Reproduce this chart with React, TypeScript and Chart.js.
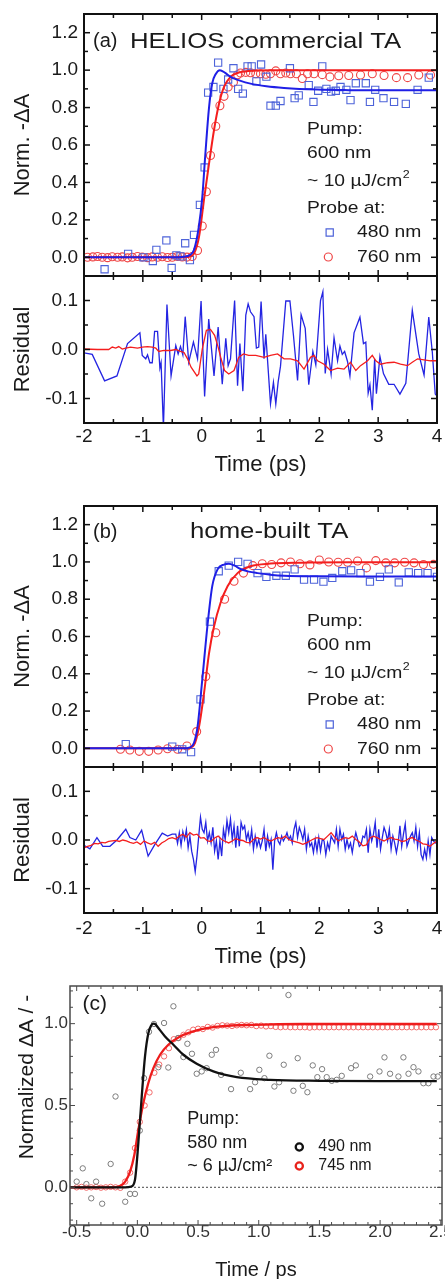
import React, { useEffect, useRef } from "react";
import { Chart, registerables } from "chart.js";

Chart.register(...registerables);

const FONT = "'Liberation Sans', Arial, Helvetica, sans-serif";
const INK = "#1a1a1a";

// ---------------- Panel (a): HELIOS commercial TA ----------------
const aBlueX = [-1.65, -1.25, -0.99, -0.83, -0.77, -0.6, -0.51, -0.43, -0.36, -0.28, -0.2, -0.13, -0.03, 0.05,
  0.11, 0.2, 0.28, 0.37, 0.45, 0.54, 0.62, 0.7, 0.78, 0.85, 0.93, 1.01, 1.1, 1.17, 1.26, 1.34, 1.5, 1.58, 1.65,
  1.82, 1.9, 1.98, 2.05, 2.12, 2.2, 2.28, 2.36, 2.46, 2.53, 2.62, 2.79, 2.86, 2.95, 3.09, 3.27, 3.47, 3.67, 3.86];
const aBlueY = [-0.064, 0.018, 0.0, -0.02, 0.04, 0.09, -0.057, 0.01, 0.005, 0.075, -0.015, 0.12, 0.28, 0.48,
  0.88, 0.91, 1.04, 0.9, 0.95, 1.01, 0.9, 0.875, 1.02, 1.02, 0.94, 1.03, 0.965, 0.81, 0.81, 0.835, 1.01, 0.85, 0.865,
  0.92, 0.83, 0.89, 1.02, 0.9, 0.885, 0.89, 0.91, 0.895, 0.84, 0.93, 0.93, 0.83, 0.895, 0.85, 0.83, 0.82, 0.895, 0.96];
const aRedX = [-1.94, -1.85, -1.77, -1.69, -1.6, -1.52, -1.43, -1.35, -1.26, -1.18, -1.09, -1.01, -0.92, -0.84,
  -0.75, -0.67, -0.58, -0.5, -0.41, -0.33, -0.25, -0.16, -0.07, 0.01, 0.08, 0.15, 0.24, 0.31, 0.38, 0.45, 0.54, 0.61,
  0.66, 0.75, 0.83, 0.92, 1.0, 1.09, 1.17, 1.26, 1.34, 1.43, 1.51, 1.61, 1.71, 1.8, 1.91, 2.05, 2.18, 2.33, 2.5,
  2.7, 2.9, 3.1, 3.31, 3.5, 3.69, 3.89];
const aRedY = [0, 0.002, 0.004, 0, -0.002, 0.003, 0, 0.002, -0.003, 0, 0.004, 0.001, -0.002, 0.002, 0, 0.003,
  -0.001, 0, 0.004, 0.002, 0.001, 0.004, 0.036, 0.167, 0.35, 0.544, 0.7, 0.81, 0.86, 0.91, 0.935, 0.975,
  0.985, 0.988, 0.986, 0.981, 0.981, 0.978, 0.981, 0.996, 0.981, 0.985, 0.981, 0.981, 0.955, 0.981, 0.981, 0.976,
  0.964, 0.97, 0.971, 0.974, 0.981, 0.971, 0.96, 0.96, 0.974, 0.974];
const aBlueFitX = [-2, -0.5, -0.3, -0.2, -0.13, -0.05, 0.01, 0.06, 0.125, 0.18, 0.24, 0.31, 0.4, 0.49, 0.65, 0.83, 1.1, 1.4, 1.97, 2.5, 3, 4];
const aBlueFitY = [0, 0, 0.003, 0.012, 0.04, 0.16, 0.32, 0.54, 0.8, 0.93, 0.98, 1.0, 0.985, 0.964, 0.944, 0.928, 0.914, 0.905, 0.896, 0.893, 0.892, 0.892];
const aRedFitX = [-2, -0.3, -0.2, -0.13, -0.045, 0.04, 0.125, 0.21, 0.295, 0.38, 0.49, 0.61, 0.8, 1.2, 2, 4];
const aRedFitY = [0, 0, 0.004, 0.02, 0.11, 0.31, 0.5, 0.68, 0.82, 0.91, 0.964, 0.985, 0.996, 1.0, 1.0, 1.0];

const aResBlueX = [-2.0, -1.86, -1.65, -1.44, -1.26, -1.05, -1.01, -0.95, -0.92, -0.88, -0.84, -0.8, -0.75, -0.71,
  -0.69, -0.65, -0.59, -0.52, -0.44, -0.4, -0.36, -0.32, -0.28, -0.22, -0.14, -0.07, -0.01, 0.05, 0.12, 0.21, 0.28,
  0.35, 0.41, 0.45, 0.49, 0.56, 0.61, 0.65, 0.7, 0.75, 0.79, 0.83, 0.89, 0.93, 0.97, 1.01, 1.06, 1.09, 1.17, 1.22,
  1.26, 1.3, 1.34, 1.43, 1.5, 1.56, 1.63, 1.69, 1.76, 1.82, 1.89, 1.94, 2.02, 2.06, 2.1, 2.14, 2.18, 2.2, 2.25, 2.31,
  2.35, 2.39, 2.43, 2.48, 2.52, 2.59, 2.69, 2.75, 2.79, 2.83, 2.86, 2.9, 2.94, 2.97, 3.03, 3.09, 3.18, 3.27, 3.37,
  3.47, 3.58, 3.69, 3.78, 3.86, 3.92, 3.97, 4.0];
const aResBlueY = [-0.007, -0.01, -0.064, -0.054, 0.012, 0.034, -0.012, -0.019, -0.011, -0.027, -0.027, 0.037, 0.037,
  -0.038, -0.027, -0.16, 0.092, -0.054, 0.008, -0.009, 0.006, -0.011, 0.067, -0.026, 0.015, -0.019, 0.099, -0.096,
  0.062, -0.054, 0.046, -0.071, 0.023, -0.033, -0.019, 0.1, -0.074, 0.012, -0.085, 0.07, 0.093, 0.077, 0.067, 0.003,
  0.005, 0.098, -0.019, 0.031, -0.111, -0.067, -0.111, -0.066, -0.034, 0.099, 0.099, 0.029, -0.063, 0.071, 0.043,
  -0.072, -0.004, -0.031, 0.1, 0.118, -0.049, 0, -0.033, -0.05, 0.024, -0.023, 0.007, -0.01, -0.004, -0.025, -0.054,
  0.034, 0.066, 0.012, 0.015, -0.089, -0.072, -0.124, -0.019, -0.09, -0.014, -0.049, -0.071, -0.071, -0.091, -0.069,
  0.08, -0.009, -0.052, 0.066, -0.005, -0.091, -0.095];
const aResRedX = [-2.0, -1.77, -1.58, -1.52, -1.46, -1.41, -1.35, -1.29, -1.21, -1.09, -1.01, -0.92, -0.84, -0.78,
  -0.73, -0.64, -0.53, -0.44, -0.36, -0.3, -0.24, -0.18, -0.08, -0.05, 0.01, 0.08, 0.15, 0.22, 0.28, 0.33, 0.39,
  0.46, 0.55, 0.63, 0.71, 0.8, 0.92, 1.06, 1.17, 1.29, 1.4, 1.51, 1.63, 1.74, 1.85, 1.91, 1.97, 2.08, 2.19, 2.31,
  2.42, 2.53, 2.62, 2.7, 2.82, 2.9, 2.96, 3.04, 3.16, 3.27, 3.38, 3.5, 3.58, 3.67, 3.78, 3.89, 4.0];
const aResRedY = [0.001, 0.0, 0.0, 0.005, 0.003, 0.006, 0.001, 0.003, 0.005, 0.003, 0.005, 0.006, 0.005, 0.003,
  -0.004, -0.002, -0.002, 0.0, -0.004, -0.006, -0.019, -0.036, -0.054, -0.05, 0.001, 0.039, 0.041, 0.029, 0.005,
  -0.019, -0.043, -0.05, -0.043, -0.016, -0.009, -0.012, -0.012, -0.016, -0.012, -0.009, -0.019, -0.019, -0.023,
  -0.04, -0.016, -0.012, -0.023, -0.03, -0.043, -0.038, -0.04, -0.026, -0.043, -0.033, -0.023, -0.012, -0.023,
  -0.03, -0.027, -0.026, -0.03, -0.033, -0.026, -0.019, -0.021, -0.023, -0.023];

// ---------------- Panel (b): home-built TA ----------------
const bBlueX = [-1.29, -0.5, -0.33, -0.18, -0.02, 0.14, 0.29, 0.46, 0.62, 0.78, 0.95, 1.1, 1.27, 1.43, 1.58, 1.74,
  1.91, 2.07, 2.22, 2.39, 2.54, 2.7, 2.86, 3.03, 3.18, 3.35, 3.52, 3.68, 3.84, 4.0];
const bBlueY = [0.023, 0.009, -0.005, -0.02, 0.263, 0.68, 0.95, 0.98, 1.0, 0.99, 0.94, 0.92, 0.926, 0.926, 0.96,
  0.905, 0.905, 0.894, 0.914, 0.95, 0.955, 0.94, 0.894, 0.92, 0.96, 0.89, 0.944, 0.94, 0.94, 0.92];
const bRedX = [-1.38, -1.22, -1.06, -0.9, -0.74, -0.58, -0.41, -0.25, -0.085, 0.07, 0.24, 0.39, 0.55, 0.71, 0.87,
  1.03, 1.19, 1.35, 1.51, 1.67, 1.84, 2.0, 2.16, 2.32, 2.48, 2.65, 2.8, 2.96, 3.13, 3.28, 3.45, 3.61, 3.77, 3.94];
const bRedY = [-0.005, -0.009, -0.016, -0.016, -0.009, -0.002, -0.005, 0.013, 0.09, 0.385, 0.62, 0.8, 0.896, 0.94,
  0.98, 0.99, 0.986, 0.995, 1.0, 0.99, 0.984, 1.01, 1.0, 0.998, 0.998, 1.005, 0.968, 1.007, 0.995, 0.995, 0.998,
  0.995, 0.986, 0.987];
const bBlueFitX = [-2, -0.3, -0.2, -0.13, -0.07, 0.01, 0.1, 0.18, 0.27, 0.38, 0.46, 0.56, 0.66, 0.8, 0.95, 1.2, 1.4, 2.0, 3.0, 4.0];
const bBlueFitY = [0, 0, 0.005, 0.03, 0.116, 0.367, 0.663, 0.87, 0.96, 0.986, 0.99, 0.98, 0.962, 0.948, 0.94, 0.93, 0.926, 0.923, 0.922, 0.922];
const bRedFitX = [-2, -0.25, -0.13, -0.045, 0.04, 0.125, 0.21, 0.32, 0.44, 0.61, 0.83, 1.17, 1.68, 2.5, 4.0];
const bRedFitY = [0, 0, 0.018, 0.116, 0.296, 0.51, 0.654, 0.78, 0.87, 0.94, 0.977, 0.991, 0.996, 0.998, 0.998];

const bResBlueX = [-2.0, -1.9, -1.78, -1.68, -1.56, -1.44, -1.29, -1.22, -1.12, -1.02, -0.91, -0.8, -0.67, -0.58, -0.5,
  -0.44, -0.41, -0.38, -0.35, -0.32, -0.29, -0.26, -0.23, -0.2, -0.17,
  -0.14, -0.11, -0.08, -0.05, -0.02, 0.01, 0.04, 0.07, 0.1, 0.13,
  0.16, 0.19, 0.22, 0.25, 0.28, 0.31, 0.34, 0.37, 0.4, 0.43,
  0.46, 0.49, 0.52, 0.55, 0.58, 0.61, 0.64, 0.67, 0.7, 0.73,
  0.76, 0.79, 0.82, 0.85, 0.88, 0.91, 0.94, 0.97, 1.0, 1.03,
  1.06, 1.09, 1.12, 1.15, 1.18, 1.21, 1.24, 1.27, 1.3, 1.33,
  1.36, 1.39, 1.42, 1.45, 1.48, 1.51, 1.54, 1.57, 1.6, 1.63,
  1.66, 1.69, 1.72, 1.75, 1.78, 1.81, 1.84, 1.87, 1.9, 1.93,
  1.96, 1.99, 2.02, 2.05, 2.08, 2.11, 2.14, 2.17, 2.2, 2.23,
  2.26, 2.29, 2.32, 2.35, 2.38, 2.41, 2.44, 2.47, 2.5, 2.53,
  2.56, 2.59, 2.62, 2.65, 2.68, 2.71, 2.74, 2.77, 2.8, 2.83,
  2.86, 2.89, 2.92, 2.95, 2.98, 3.01, 3.04, 3.07, 3.1, 3.13,
  3.16, 3.19, 3.22, 3.25, 3.28, 3.31, 3.34, 3.37, 3.4, 3.43,
  3.46, 3.49, 3.52, 3.55, 3.58, 3.61, 3.64, 3.67, 3.7, 3.73,
  3.76, 3.79, 3.82, 3.85, 3.88, 3.91, 3.94, 3.97, 4.0];
const bResBlueY = [-0.011, -0.018, 0.005, -0.013, -0.013, 0.0, 0.022, 0.005, 0.0, 0.02, -0.033, -0.01, 0.014, 0.008, 0.012,
  0.012, -0.007, 0.015, -0.011, 0.017, 0.001, 0.021, -0.016, 0.008, -0.023,
  -0.04, -0.065, -0.033, 0.008, 0.047, 0.022, 0.015, 0.036, -0.002, 0.015,
  -0.006, 0.026, -0.023, -0.002, -0.04, -0.002, -0.033, 0.022, 0.001, 0.04,
  0.015, 0.043, 0.001, 0.029, -0.016, 0.029, -0.013, 0.036, 0.022, 0.029,
  0.001, 0.015, -0.006, 0.021, -0.019, 0.008, -0.013, 0.001, -0.016, -0.002,
  0.022, -0.023, 0.008, -0.013, 0.001, -0.061, -0.002, 0.015, -0.002, -0.009,
  0.008, -0.002, 0.005, 0.015, 0.001, 0.008, -0.006, 0.022, 0.036, 0.005,
  0.026, 0.015, 0.001, 0.022, -0.019, 0.008, -0.013, -0.006, -0.026, 0.001,
  -0.023, 0.005, -0.023, 0.001, -0.002, -0.03, -0.006, -0.019, 0.008, 0.001,
  -0.006, 0.022, -0.013, 0.022, 0.001, 0.012, -0.019, 0.001, -0.016, -0.006,
  -0.026, -0.002, 0.015, 0.001, -0.013, -0.009, 0.008, 0.005, 0.022, -0.026,
  0.022, -0.002, 0.012, 0.036, -0.016, 0.022, -0.019, 0.005, 0.026, 0.015,
  -0.002, 0.022, -0.019, 0.008, -0.006, -0.026, -0.006, 0.029, -0.013, 0.012,
  0.033, -0.013, -0.002, 0.008, 0.015, -0.002, 0.026, -0.013, 0.015, -0.03,
  -0.04, -0.019, -0.037, -0.002, -0.03, 0.005, -0.002, -0.006, -0.002];
const bResRedX = [-2.0, -1.94, -1.88, -1.82, -1.76, -1.7, -1.64, -1.58, -1.52, -1.46,
  -1.4, -1.34, -1.28, -1.22, -1.16, -1.1, -1.04, -0.98, -0.92, -0.86,
  -0.8, -0.74, -0.68, -0.62, -0.56, -0.5, -0.44, -0.38, -0.32, -0.26,
  -0.2, -0.14, -0.08, -0.02, 0.04, 0.1, 0.16, 0.22, 0.28, 0.34,
  0.4, 0.46, 0.52, 0.58, 0.64, 0.7, 0.76, 0.82, 0.88, 0.94,
  1.0, 1.06, 1.12, 1.18, 1.24, 1.3, 1.36, 1.42, 1.48, 1.54,
  1.6, 1.66, 1.72, 1.78, 1.84, 1.9, 1.96, 2.02, 2.08, 2.14,
  2.2, 2.26, 2.32, 2.38, 2.44, 2.5, 2.56, 2.62, 2.68, 2.74,
  2.8, 2.86, 2.92, 2.98, 3.04, 3.1, 3.16, 3.22, 3.28, 3.34,
  3.4, 3.46, 3.52, 3.58, 3.64, 3.7, 3.76, 3.82, 3.88, 3.94, 4.0];
const bResRedY = [-0.016, -0.013, -0.011, -0.007, -0.008, -0.005, -0.006, -0.003, -0.002, -0.001,
  -0.003, 0.0, -0.002, -0.005, -0.007, -0.004, -0.009, -0.002, -0.006, -0.009,
  -0.005, -0.013, -0.006, -0.002, 0.003, 0.005, 0.002, 0.008, 0.012, 0.006,
  0.015, 0.01, 0.012, 0.004, 0.005, -0.002, -0.003, 0.004, 0.008, 0.001,
  -0.003, -0.006, -0.002, 0.003, 0.0, -0.001, -0.005, -0.006, 0.001, 0.005,
  0.002, 0.005, 0.0, -0.002, 0.002, 0.005, 0.003, 0.008, 0.001, -0.002,
  -0.004, -0.006, -0.009, -0.006, -0.002, 0.002, 0.005, 0.003, 0.001, 0.008,
  0.015, 0.006, -0.002, 0.002, 0.005, 0.003, 0.008, 0.001, -0.004, -0.012,
  -0.01, 0.004, 0.008, 0.005, 0.001, -0.002, 0.002, 0.005, 0.002, 0.001,
  -0.003, -0.002, 0.003, 0.005, 0.0, -0.003, -0.008, -0.009, -0.013, -0.007, -0.002];

// ---------------- Panel (c) ----------------
const cBlackX = [-0.5, -0.45, -0.42, -0.38, -0.34, -0.29, -0.22, -0.18, -0.1, -0.06, -0.02, 0.02, 0.055, 0.096,
  0.137, 0.173, 0.22, 0.255, 0.297, 0.335, 0.379, 0.412, 0.45, 0.489, 0.53, 0.571, 0.613, 0.648, 0.69, 0.772,
  0.852, 0.929, 0.97, 1.005, 1.047, 1.088, 1.129, 1.168, 1.206, 1.245, 1.286, 1.321, 1.363, 1.401, 1.445, 1.483,
  1.522, 1.56, 1.602, 1.643, 1.684, 1.761, 1.8, 1.918, 1.995, 2.036, 2.082, 2.151, 2.192, 2.234, 2.275, 2.316,
  2.357, 2.398, 2.44, 2.475];
const cBlackY = [0.035, 0.116, 0.02, -0.067, 0.035, -0.1, 0.143, 0.555, -0.088, -0.04, -0.04, 0.347, 0.667, 0.95,
  0.998, 0.734, 1.004, 0.732, 1.106, 0.912, 0.796, 0.877, 0.816, 0.694, 0.708, 0.728, 0.81, 0.84, 0.687, 0.6,
  0.7, 0.6, 0.642, 0.718, 0.667, 0.804, 0.616, 0.642, 0.749, 1.175, 0.59, 0.789, 0.62, 0.581, 0.745, 0.673,
  0.722, 0.673, 0.651, 0.657, 0.681, 0.728, 0.745, 0.677, 0.708, 0.794, 0.694, 0.677, 0.794, 0.694, 0.734, 0.708,
  0.636, 0.636, 0.677, 0.677];
const cRedX = [-0.5, -0.46, -0.42, -0.38, -0.34, -0.3, -0.26, -0.22, -0.18, -0.14,
  -0.1, -0.06, -0.02, 0.02, 0.06, 0.1, 0.14, 0.18, 0.22, 0.26,
  0.3, 0.34, 0.38, 0.42, 0.46, 0.5, 0.54, 0.58, 0.62, 0.66,
  0.7, 0.74, 0.78, 0.82, 0.86, 0.9, 0.94, 0.98, 1.02, 1.06,
  1.1, 1.14, 1.18, 1.22, 1.26, 1.3, 1.34, 1.38, 1.42, 1.46,
  1.5, 1.54, 1.58, 1.62, 1.66, 1.7, 1.74, 1.78, 1.82, 1.86,
  1.9, 1.94, 1.98, 2.02, 2.06, 2.1, 2.14, 2.18, 2.22, 2.26,
  2.3, 2.34, 2.38, 2.42, 2.46];
const cRedY = [0.0, 0.003, -0.002, 0.0, 0.002, -0.002, 0.0, 0.003, 0.0, -0.003,
  0.035, 0.09, 0.24, 0.4, 0.5, 0.58, 0.7, 0.75, 0.8, 0.85,
  0.905, 0.912, 0.932, 0.947, 0.963, 0.969, 0.967, 0.98, 0.976, 0.986,
  0.99, 0.988, 0.986, 0.99, 0.992, 0.99, 0.992, 0.985, 0.988, 0.983,
  0.985, 0.98, 0.978, 0.98, 0.978, 0.978, 0.978, 0.978, 0.976, 0.978,
  0.978, 0.978, 0.978, 0.978, 0.978, 0.978, 0.978, 0.978, 0.978, 0.978,
  0.978, 0.978, 0.978, 0.978, 0.978, 0.978, 0.978, 0.978, 0.978, 0.978,
  0.978, 0.978, 0.978, 0.978, 0.978];
const cBlackFitX = [-0.555, -0.1, -0.05, -0.02, 0.008, 0.036, 0.063, 0.09, 0.115, 0.132, 0.15, 0.173, 0.228, 0.297,
  0.379, 0.489, 0.626, 0.819, 1.093, 1.505, 2.0, 2.467];
const cBlackFitY = [0, 0, 0.005, 0.045, 0.27, 0.555, 0.8, 0.94, 0.99, 1.0, 0.995, 0.973, 0.922, 0.871, 0.81, 0.755,
  0.708, 0.673, 0.657, 0.651, 0.649, 0.649];
const cRedFitX = [-0.555, -0.2, -0.143, -0.1, -0.06, -0.025, 0.008, 0.049, 0.09, 0.132, 0.187, 0.255, 0.352, 0.489,
  0.681, 0.956, 1.368, 2.467];
const cRedFitY = [0, 0, 0.008, 0.035, 0.096, 0.198, 0.351, 0.514, 0.636, 0.728, 0.81, 0.871, 0.922, 0.959, 0.983,
  0.993, 0.998, 0.998];
const cZeroX = [-0.555, 2.51];
const cZeroY = [0, 0];

// ---------------- Tick labels ----------------
const abXTicks = [-2, -1, 0, 1, 2, 3, 4];
const abXMinor = [-1.5, -0.5, 0.5, 1.5, 2.5, 3.5];
const mainYTicks = [0, 0.2, 0.4, 0.6, 0.8, 1.0, 1.2];
const mainYMinor = [0.1, 0.3, 0.5, 0.7, 0.9, 1.1];
const resYTicks = [-0.1, 0, 0.1];
const resYMinor = [-0.05, 0.05];
const cXTicks = [-0.5, 0, 0.5, 1.0, 1.5, 2.0, 2.5];
const cXMinor = [-0.4, -0.3, -0.2, -0.1, 0.1, 0.2, 0.3, 0.4, 0.6, 0.7, 0.8, 0.9, 1.1, 1.2, 1.3, 1.4, 1.6, 1.7,
  1.8, 1.9, 2.1, 2.2, 2.3, 2.4];
const cYTicks = [0, 0.5, 1.0];
const cYMinor = [-0.2, -0.1, 0.1, 0.2, 0.3, 0.4, 0.6, 0.7, 0.8, 0.9, 1.1, 1.2];

// ---------------- colours ----------------
const BLUE_PT = "#4d63d9";
const RED_PT = "#ef4646";
const BLUE_LN = "#1f1fe6";
const RED_LN = "#f41e1e";

const pts = (xs: number[], ys: number[]) => xs.map((x, i) => ({ x, y: ys[i] }));

type Txt = {
  text: string; x: number; y: number; size: number; sx?: number; color?: string;
  align?: "left" | "center"; sup?: string; supSize?: number; rot?: boolean;
};
type Mark = { kind: "rect" | "circle"; x: number; y: number; r: number; color: string; lw: number };
type FrameOpts = {
  xMajor: number[]; xMinor: number[]; yMajor: number[]; yMinor: number[];
  majorLen: number; minorLen: number; tickWidth: number; borderWidth: number; color: string;
  texts: Txt[]; marks: Mark[];
};

function drawText(ctx: CanvasRenderingContext2D, t: Txt) {
  ctx.save();
  ctx.font = `${t.size}px ${FONT}`;
  ctx.fillStyle = t.color ?? INK;
  ctx.textBaseline = "middle";
  ctx.textAlign = "left";
  ctx.translate(t.x, t.y);
  if (t.rot) ctx.rotate(-Math.PI / 2);
  ctx.scale(t.sx ?? 1, 1);
  const w = ctx.measureText(t.text).width;
  const x0 = t.align === "center" ? -w / 2 : 0;
  ctx.fillText(t.text, x0, 0);
  if (t.sup) {
    ctx.font = `${t.supSize ?? Math.round(t.size * 0.62)}px ${FONT}`;
    ctx.fillText(t.sup, x0 + w + 0.5, -t.size * 0.4);
  }
  ctx.restore();
}

function framePlugin(o: FrameOpts) {
  return {
    id: "frame",
    afterDraw(chart: any) {
      const { ctx, chartArea: a } = chart;
      const sx = chart.scales.x;
      const sy = chart.scales.y;
      ctx.save();
      ctx.strokeStyle = o.color;
      const seg = (x1: number, y1: number, x2: number, y2: number) => {
        ctx.beginPath();
        ctx.moveTo(x1, y1);
        ctx.lineTo(x2, y2);
        ctx.stroke();
      };
      ctx.lineWidth = o.tickWidth;
      const xs: [number[], number][] = [[o.xMajor, o.majorLen], [o.xMinor, o.minorLen]];
      xs.forEach(([vals, len]) =>
        vals.forEach((v) => {
          const p = sx.getPixelForValue(v);
          seg(p, a.bottom, p, a.bottom - len);
          seg(p, a.top, p, a.top + len);
        })
      );
      const ys: [number[], number][] = [[o.yMajor, o.majorLen], [o.yMinor, o.minorLen]];
      ys.forEach(([vals, len]) =>
        vals.forEach((v) => {
          const p = sy.getPixelForValue(v);
          seg(a.left, p, a.left + len, p);
          seg(a.right, p, a.right - len, p);
        })
      );
      ctx.lineWidth = o.borderWidth;
      ctx.strokeRect(a.left, a.top, a.right - a.left, a.bottom - a.top);
      o.marks.forEach((m) => {
        ctx.strokeStyle = m.color;
        ctx.lineWidth = m.lw;
        ctx.beginPath();
        if (m.kind === "rect") ctx.rect(m.x - m.r, m.y - m.r, 2 * m.r, 2 * m.r);
        else ctx.arc(m.x, m.y, m.r, 0, Math.PI * 2);
        ctx.stroke();
      });
      o.texts.forEach((t) => drawText(ctx, t));
      ctx.restore();
    },
  };
}

const markers = (data: any[], style: string, color: string, r: number, bw: number) => ({
  data, showLine: false, pointStyle: style, pointRadius: r, pointBorderColor: color,
  pointBackgroundColor: "rgba(0,0,0,0)", pointBorderWidth: bw, order: 2,
});
const curve = (data: any[], color: string, w: number, smooth: boolean, order = 0, dash: number[] = []) => ({
  data, showLine: true, borderColor: color, borderWidth: w, pointRadius: 0, tension: 0,
  cubicInterpolationMode: smooth ? "monotone" : "default", order, borderDash: dash, fill: false,
});

type AxisOpt = {
  min: number; max: number; ticks: number[]; dec: number; size: number; color: string; pad: number;
  fit: number; title?: string; titleSize?: number; titlePad?: number; display?: boolean;
};
function axis(o: AxisOpt, vertical: boolean) {
  return {
    type: "linear",
    display: o.display ?? true,
    min: o.min,
    max: o.max,
    afterBuildTicks: (s: any) => { s.ticks = o.ticks.map((v) => ({ value: v })); },
    afterFit: (s: any) => {
      if (vertical) s.width = o.fit; else s.height = o.fit;
      s.paddingTop = 0; s.paddingBottom = 0; s.paddingLeft = 0; s.paddingRight = 0;
    },
    grid: { display: false, drawTicks: false },
    border: { display: false },
    ticks: {
      padding: o.pad, color: o.color, autoSkip: false, maxRotation: 0, minRotation: 0,
      font: { family: FONT, size: o.size },
      callback: (v: any) => Number(v).toFixed(o.dec),
    },
    title: o.title
      ? {
          display: true, text: o.title, color: INK,
          font: { family: FONT, size: o.titleSize ?? 22 },
          padding: vertical ? { top: o.titlePad ?? 0, bottom: 0 } : { top: 0, bottom: o.titlePad ?? 0 },
        }
      : { display: false },
  };
}

function config(datasets: any[], scales: any, frame: FrameOpts, padding: any) {
  return {
    type: "scatter",
    data: { datasets },
    options: {
      responsive: false, animation: false, devicePixelRatio: 1, events: [],
      layout: { padding, autoPadding: false },
      plugins: { legend: { display: false }, tooltip: { enabled: false } },
      scales,
    },
    plugins: [framePlugin(frame)],
  };
}

const legendTexts = (): Txt[] => [
  { text: "Pump:", x: 307, y: 129.5, size: 17, sx: 1.135 },
  { text: "600 nm", x: 307, y: 153.5, size: 17, sx: 1.135 },
  { text: "~ 10 \u00B5J/cm", x: 307, y: 181.5, size: 17, sx: 1.135, sup: "2", supSize: 11 },
  { text: "Probe at:", x: 307, y: 208.3, size: 17, sx: 1.135 },
  { text: "480 nm", x: 357, y: 232.5, size: 17, sx: 1.135 },
  { text: "760 nm", x: 357, y: 257, size: 17, sx: 1.135 },
];
const legendMarks = (): Mark[] => [
  { kind: "rect", x: 329.7, y: 232.5, r: 3.6, color: BLUE_PT, lw: 1.2 },
  { kind: "circle", x: 328.3, y: 257, r: 4, color: RED_PT, lw: 1.2 },
];

const abFrame = (texts: Txt[], marks: Mark[], yMajor: number[], yMinor: number[]): FrameOpts => ({
  xMajor: abXTicks, xMinor: abXMinor, yMajor, yMinor, majorLen: 6, minorLen: 4,
  tickWidth: 1.5, borderWidth: 2, color: "#111", texts, marks,
});

function mainConfig(blue: any[], red: any[], blueFit: any[], redFit: any[], texts: Txt[]) {
  return config(
    [
      curve(blueFit, BLUE_LN, 2, true, 0),
      curve(redFit, RED_LN, 2, true, 0),
      markers(blue, "rect", BLUE_PT, 5.1, 1.1),
      markers(red, "circle", RED_PT, 4, 1.1),
    ],
    {
      x: axis({ min: -2, max: 4, ticks: abXTicks, dec: 0, size: 19, color: INK, pad: 3, fit: 0, display: false }, false),
      y: axis({ min: -0.1, max: 1.3, ticks: mainYTicks, dec: 1, size: 19, color: INK, pad: 6, fit: 84,
        title: "Norm. -\u0394A", titleSize: 22, titlePad: 10 }, true),
    },
    abFrame(texts, legendMarks(), mainYTicks, mainYMinor),
    { top: 14, right: 8, bottom: 4, left: 0 }
  );
}

function resConfig(blue: any[], red: any[], xFit: number, xPad: number, tPad: number) {
  return config(
    [curve(blue, "#2424e2", 1.3, false, 1), curve(red, RED_LN, 1.3, false, 0)],
    {
      x: axis({ min: -2, max: 4, ticks: abXTicks, dec: 0, size: 19, color: INK, pad: xPad, fit: xFit,
        title: "Time (ps)", titleSize: 22, titlePad: tPad }, false),
      y: axis({ min: -0.15, max: 0.15, ticks: resYTicks, dec: 1, size: 19, color: INK, pad: 6, fit: 84,
        title: "Residual", titleSize: 22, titlePad: 10 }, true),
    },
    abFrame([], [], resYTicks, resYMinor),
    { top: 4, right: 8, bottom: 0, left: 0 }
  );
}

function cConfig() {
  const texts: Txt[] = [
    { text: "(c)", x: 82.5, y: 34, size: 21 },
    { text: "Pump:", x: 187.3, y: 149.3, size: 18 },
    { text: "580 nm", x: 187.3, y: 172.7, size: 18 },
    { text: "~ 6 \u00B5J/cm\u00B2", x: 187.3, y: 196, size: 18 },
    { text: "490 nm", x: 318.3, y: 177, size: 16 },
    { text: "745 nm", x: 318.3, y: 196, size: 16 },
    { text: "Normalized \u0394A / -", x: 27, y: 107, size: 21, rot: true, align: "center" },
  ];
  const marks: Mark[] = [
    { kind: "circle", x: 299.3, y: 177, r: 3.6, color: "#111", lw: 2.3 },
    { kind: "circle", x: 299.3, y: 196, r: 3.6, color: "#e8231c", lw: 2.3 },
  ];
  return config(
    [
      curve(pts(cBlackFitX, cBlackFitY), "#111", 2.3, true, 0),
      curve(pts(cRedFitX, cRedFitY), "#ee1c1c", 2.3, true, 0),
      markers(pts(cBlackX, cBlackY), "circle", "#7c7c7c", 2.7, 1),
      markers(pts(cRedX, cRedY), "circle", "#f26a6a", 2.7, 1),
      curve(pts(cZeroX, cZeroY), "#666", 1.2, false, 3, [2, 2]),
    ],
    {
      x: axis({ min: -0.555, max: 2.51, ticks: cXTicks, dec: 1, size: 17, color: "#333", pad: -3, fit: 54,
        title: "Time / ps", titleSize: 20, titlePad: -3 }, false),
      y: axis({ min: -0.23, max: 1.23, ticks: cYTicks, dec: 1, size: 17, color: "#333", pad: 2, fit: 70 }, true),
    },
    {
      xMajor: cXTicks, xMinor: cXMinor, yMajor: cYTicks, yMinor: cYMinor, majorLen: 5, minorLen: 3,
      tickWidth: 1, borderWidth: 1.5, color: "#4a4a4a", texts, marks,
    },
    { top: 16, right: 3, bottom: 0, left: 0 }
  );
}

function Panel({ top, height, build }: { top: number; height: number; build: () => any }) {
  const ref = useRef<HTMLCanvasElement>(null);
  useEffect(() => {
    const chart = new Chart(ref.current as HTMLCanvasElement, build());
    return () => chart.destroy();
  }, []);
  return (
    <canvas
      ref={ref}
      width={445}
      height={height}
      style={{ position: "absolute", left: 0, top, width: 445, height }}
    />
  );
}

export default function App() {
  const aTexts: Txt[] = [
    { text: "(a)", x: 93, y: 41.7, size: 20 },
    { text: "HELIOS commercial TA", x: 130, y: 41.7, size: 22, sx: 1.17 },
    ...legendTexts(),
  ];
  const bTexts: Txt[] = [
    { text: "(b)", x: 93, y: 40, size: 20 },
    { text: "home-built TA", x: 190, y: 40, size: 22, sx: 1.17 },
    ...legendTexts(),
  ];
  return (
    <div style={{ position: "absolute", left: 0, top: 0, width: 445, height: 1279, background: "#fff", overflow: "hidden" }}>
      <Panel top={0} height={280} build={() => mainConfig(pts(aBlueX, aBlueY), pts(aRedX, aRedY), pts(aBlueFitX, aBlueFitY), pts(aRedFitX, aRedFitY), aTexts)} />
      <Panel top={272} height={208} build={() => resConfig(pts(aResBlueX, aResBlueY), pts(aResRedX, aResRedY), 57, 2.6, 1.8)} />
      <Panel top={492} height={279} build={() => mainConfig(pts(bBlueX, bBlueY), pts(bRedX, bRedY), pts(bBlueFitX, bBlueFitY), pts(bRedFitX, bRedFitY), bTexts)} />
      <Panel top={763} height={208} build={() => resConfig(pts(bResBlueX, bResBlueY), pts(bResRedX, bResRedY), 58, 4.6, 0.8)} />
      <Panel top={970} height={309} build={cConfig} />
    </div>
  );
}
